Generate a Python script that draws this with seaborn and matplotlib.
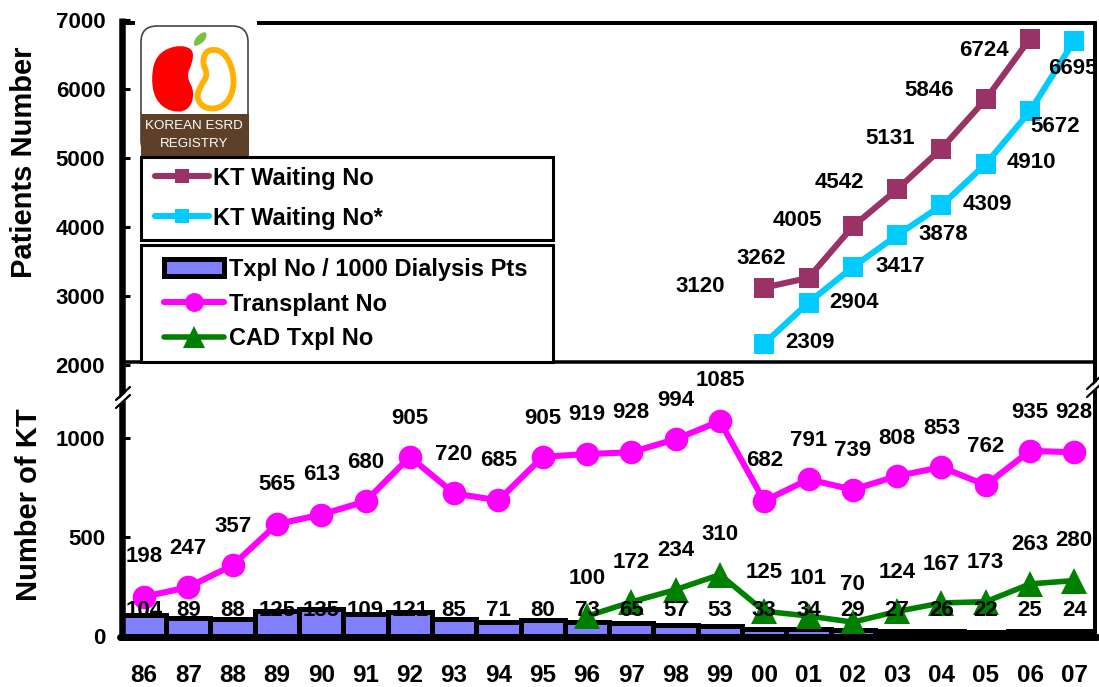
import numpy as np
import pandas as pd
import matplotlib
matplotlib.use("Agg")
import matplotlib.pyplot as plt
import matplotlib.transforms as mtrans
from matplotlib.patches import Rectangle, FancyBboxPatch, PathPatch
from matplotlib.path import Path
import seaborn as sns

years = ["86","87","88","89","90","91","92","93","94","95","96","97","98","99",
         "00","01","02","03","04","05","06","07"]
transplant_no = [198,247,357,565,613,680,905,720,685,905,919,928,994,1085,
                 682,791,739,808,853,762,935,928]
txpl_per_1000 = [104,89,88,125,135,109,121,85,71,80,73,65,57,53,
                 33,34,29,27,26,22,25,24]
cad_years = years[10:]
cad_txpl = [100,172,234,310,125,101,70,124,167,173,263,280]
wait_years_a = years[14:21]
wait_a = [3120,3262,4005,4542,5131,5846,6724]
wait_years_b = years[14:]
wait_b = [2309,2904,3417,3878,4309,4910,5672,6695]

# label placement (image pixels)
transplant_label_y = [557,548,527,484,475,462,419,455,461,419,415,412,400,381,
                      461,440,451,438,428,446,412,412]
cad_label_y = [578,562,550,535,572,578,584,572,565,562,545,541]
bar_label_y = 611
wait_a_label_xy = [(700,287),(761,258),(797,221),(839,183),(890,138),(929,90),(984,51)]
wait_b_label_xy = [(810,343),(854,303),(900,267),(943,235),(987,205),(1031,163),(1055,127),(1073,69)]

sns.set_theme(style="white")
plt.rcParams["font.family"] = ["Liberation Sans", "DejaVu Sans"]
plt.rcParams["font.weight"] = "bold"

W, H = 1099, 687
fig = plt.figure(figsize=(W/100, H/100), dpi=100, facecolor="white")

def axes_px(l, r, t, b):
    return fig.add_axes([l/W, 1-b/H, (r-l)/W, (b-t)/H])

L, R = 121.85, 1096.45
ax_up = axes_px(L, R, 19.6, 365)
ax_lo = axes_px(L, R, 395, 636)
for a in (ax_up, ax_lo):
    a.patch.set_alpha(0)

pos = {y: i for i, y in enumerate(years)}
x_all = np.arange(len(years))

# bars and lines, lower panel
sns.barplot(x=x_all, y=txpl_per_1000, native_scale=True, width=1.0, color="#8080FF",
            saturation=1, edgecolor="black", linewidth=3.6, ax=ax_lo,
            label="Txpl No / 1000 Dialysis Pts", legend=False, zorder=2)
sns.lineplot(x=[pos[y] for y in years], y=transplant_no, color="#FF00FF", lw=4.4,
             marker="o", ms=17, mew=0, ax=ax_lo, label="Transplant No", legend=False,
             zorder=3, clip_on=False)
sns.lineplot(x=[pos[y] for y in cad_years], y=cad_txpl, color="#008000", lw=4,
             marker="^", ms=19, mew=0, ax=ax_lo, label="CAD Txpl No", legend=False,
             zorder=4, clip_on=False)
if ax_lo.get_legend() is not None:
    ax_lo.get_legend().remove()
ax_lo.set_xlim(-0.5, 21.5)
ax_lo.set_ylim(0, 241/0.198)
ax_lo.set_yticks([0, 500, 1000])
ax_lo.set_xticks(x_all)
ax_lo.set_xticklabels(years)

# upper panel
sns.lineplot(x=[pos[y] for y in wait_years_a], y=wait_a, color="#993366", lw=4.4,
             marker="s", ms=13.7, mew=0, ax=ax_up, label="KT Waiting No", legend=False,
             zorder=3, clip_on=False)
sns.lineplot(x=[pos[y] for y in wait_years_b], y=wait_b, color="#00CCFF", lw=4.4,
             marker="s", ms=13.7, mew=0, ax=ax_up, label="KT Waiting No*", legend=False,
             zorder=3, clip_on=False)
ax_up.set_xlim(-0.5, 21.5)
ax_up.set_ylim(2000, 7000)
ax_up.set_yticks([2000, 3000, 4000, 5000, 6000, 7000])
ax_up.set_xticks([])

for a in (ax_up, ax_lo):
    for s in a.spines.values():
        s.set_visible(False)
    a.tick_params(axis="y", direction="in", left=True, length=6, width=2.2, color="black",
                  pad=12, labelsize=16, labelcolor="black")
    for lab in a.get_yticklabels():
        lab.set_fontweight("bold")
ax_lo.tick_params(axis="x", bottom=False, pad=14, labelsize=17.5, labelcolor="black")
for lab in ax_lo.get_xticklabels():
    lab.set_fontweight("bold")

ax_up.set_ylabel("Patients Number", fontsize=21, fontweight="bold", color="black")
ax_up.yaxis.set_label_coords((38-L)/(R-L), (365-162.5)/345.4)
ax_lo.set_ylabel("Number of KT", fontsize=21, fontweight="bold", color="black")
ax_lo.yaxis.set_label_coords((43-L)/(R-L), (636-504.5)/241)

# overlay in image pixels: frame, breaks, legend boxes, logo, value labels
ov = fig.add_axes([0, 0, 1, 1], zorder=10)
ov.set_xlim(0, W); ov.set_ylim(H, 0); ov.axis("off"); ov.patch.set_alpha(0)

def hline(xs, ys, lw, color="black", z=5, cap="butt"):
    ov.plot(xs, ys, color=color, lw=lw*0.72, solid_capstyle=cap, zorder=z)

hline([L, L], [18, 640], 6.5)
hline([1095, 1095], [21, 638], 4)
hline([120, 1097], [23, 23], 4)
hline([120, 1097], [362, 362], 3.5)
hline([120, 1097], [636.5, 636.5], 7, cap="round")

# axis breaks
for (x0, y0) in [(116, 404), (1087, 393)]:
    ov.fill([x0, x0+14, x0+14, x0], [y0-2, y0-15, y0-8, y0+5], color="white", zorder=6, lw=0)
    ov.plot([x0, x0+14], [y0-4, y0-17], color="black", lw=1.6, zorder=7)
    ov.plot([x0, x0+14], [y0+4, y0-9], color="black", lw=1.6, zorder=7)

# logo
ov.add_patch(Rectangle((135, 21), 122, 138, fc="white", ec="none", zorder=6))
ov.add_patch(FancyBboxPatch((146, 31), 97, 120, boxstyle="round,pad=5,rounding_size=16",
                            fc="white", ec="#444444", lw=1.2, zorder=6.1))
ov.add_patch(Rectangle((141, 114), 108, 42, fc="#5E4028", ec="none", zorder=6.2))

def smooth(pts):
    pts = np.array(pts, float)
    mids = (pts + np.roll(pts, -1, axis=0)) / 2
    v = [mids[-1]]; c = [Path.MOVETO]
    for p, m in zip(pts, mids):
        v += [p, m]; c += [Path.CURVE3, Path.CURVE3]
    return Path(v, c)

red_bean = [(175,45),(193,48),(193,62),(186,76),(195,92),(189,111),(170,112),(155,100),(151,78),(156,55)]
orange_bean = [(207,49),(224,51),(234,72),(233,94),(222,108),(205,109),(196,98),(201,85),(208,75),(202,62)]
leaf = [(193,48),(195,37),(207,30),(206,41)]
ov.add_patch(PathPatch(smooth(red_bean), fc="#FF0000", ec="none", zorder=6.3))
ov.add_patch(PathPatch(smooth(orange_bean), fc="none", ec="#FFB000", lw=4.2, zorder=6.3))
ov.add_patch(PathPatch(smooth(leaf), fc="#7AC143", ec="none", zorder=6.3))
ov.text(194, 126, "KOREAN ESRD", color="white", fontsize=9.6, fontweight="normal",
        ha="center", va="center", zorder=6.4)
ov.text(194, 144, "REGISTRY", color="white", fontsize=9.6, fontweight="normal",
        ha="center", va="center", zorder=6.4)

# legend frames
ov.add_patch(Rectangle((141, 157), 412, 83, fc="white", ec="black", lw=2.2, zorder=6.5))
ov.add_patch(Rectangle((141, 245), 412, 117, fc="white", ec="black", lw=2.2, zorder=6.5))

h_up, l_up = ax_up.get_legend_handles_labels()
h_lo, l_lo = ax_lo.get_legend_handles_labels()
order = ["Txpl No / 1000 Dialysis Pts", "Transplant No", "CAD Txpl No"]
d_lo = dict(zip(l_lo, h_lo))
leg1 = ov.legend(h_up, l_up, loc="center left", bbox_to_anchor=(155, 198),
                 bbox_transform=ov.transData, frameon=False, borderpad=0, borderaxespad=0,
                 handlelength=2.3, handletextpad=0.15, labelspacing=0.72, markerscale=0.78,
                 prop={"size": 17, "weight": "bold"}, labelcolor="black")
leg1.set_zorder(8)
ov.add_artist(leg1)
leg2 = ov.legend([d_lo[k] for k in order], order, loc="center left", bbox_to_anchor=(164, 304),
                 bbox_transform=ov.transData, frameon=False, borderpad=0, borderaxespad=0,
                 handlelength=2.55, handletextpad=0.2, labelspacing=0.5, markerscale=0.8,
                 prop={"size": 17, "weight": "bold"}, labelcolor="black")
leg2.set_zorder(8)

# value labels
tr_lo = mtrans.blended_transform_factory(ax_lo.transData, ov.transData)
txt = dict(ha="center", va="center", color="black", fontweight="bold", zorder=9)
for i, (v, y) in enumerate(zip(transplant_no, transplant_label_y)):
    ov.text(i, y, str(v), transform=tr_lo, fontsize=16, **txt)
for y_, v, y in zip(cad_years, cad_txpl, cad_label_y):
    ov.text(pos[y_], y, str(v), transform=tr_lo, fontsize=16, **txt)
for i, v in enumerate(txpl_per_1000):
    ov.text(i, bar_label_y, str(v), transform=tr_lo, fontsize=16, **txt)
for v, (x, y) in zip(wait_a, wait_a_label_xy):
    ov.text(x, y, str(v), fontsize=16, **txt)
for v, (x, y) in zip(wait_b, wait_b_label_xy):
    ov.text(x, y, str(v), fontsize=16, **txt)

fig.savefig("out.png", dpi=100, facecolor="white")
